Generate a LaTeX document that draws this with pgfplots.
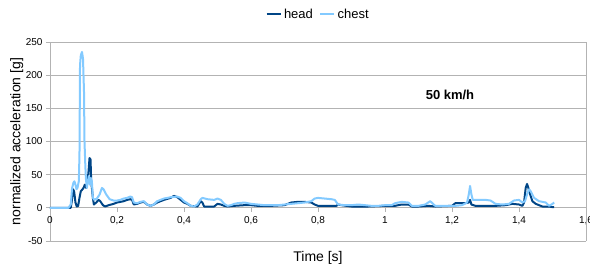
\documentclass[border=0pt]{standalone}
\usepackage{pgfplots}
\pgfplotsset{compat=1.18}
\usepackage{fontspec}
\setmainfont{Liberation Sans}
\definecolor{headc}{HTML}{004586}
\definecolor{chestc}{HTML}{83CAFF}
\definecolor{gridc}{HTML}{B3B3B3}
\begin{document}
\begin{tikzpicture}
\useasboundingbox (-50pt,-30pt) rectangle (540pt,241pt);
\begin{axis}[
  name=ax, at={(0,0)}, anchor=south west,
  scale only axis, width=536pt, height=199pt,
  xmin=0, xmax=1.6, ymin=-50, ymax=250,
  axis x line=middle, axis y line=left,
  axis line style={gridc, -, line width=0.8pt},
  hide obscured x ticks=false, hide obscured y ticks=false,
  xtick={0,0.2,0.4,0.6,0.8,1,1.2,1.4,1.6},
  ytick={-50,0,50,100,150,200,250},
  ymajorgrids, grid style={gridc, line width=0.8pt},
  tick style={gridc, line width=0.8pt}, tick align=outside, major tick length=4pt,
  ticklabel style={font=\fontsize{10}{12}\selectfont},
  /pgf/number format/use comma, /pgf/number format/assume math mode=true,
  xticklabel style={yshift=-1pt},
  xlabel={Time [s]}, ylabel={normalized acceleration [g]},
  label style={font=\fontsize{14}{16}\selectfont},
  xlabel style={at={(axis description cs:0.5,-0.085)}, anchor=center},
  ylabel style={at={(axis description cs:-0.062,0.5)}, anchor=center, rotate=0},
  legend style={at={(axis description cs:0.5,1.14)}, anchor=center, draw=none,
    font=\fontsize{13}{15}\selectfont, legend columns=2,
    /tikz/every even column/.append style={column sep=4pt}},
  legend image code/.code={\draw[#1, line width=2.5pt] (0,0) -- (0.5cm,0);},
  clip=false,
]
\addplot[headc, line width=2pt, line join=round] coordinates {
(0,0) (0.062,0) (0.065,10) (0.069,28) (0.072,25) (0.076,8) (0.080,2) (0.084,3)
(0.088,15) (0.092,25) (0.097,28) (0.100,30) (0.104,35) (0.108,30) (0.112,40)
(0.115,55) (0.118,75) (0.121,73) (0.123,40) (0.125,30) (0.128,15) (0.131,5)
(0.138,8) (0.145,12) (0.150,10) (0.158,4) (0.165,2) (0.175,4) (0.19,6) (0.2,8)
(0.21,9) (0.22,10) (0.23,12) (0.24,13) (0.245,12) (0.25,5) (0.26,6) (0.27,8)
(0.28,9) (0.29,5) (0.3,3) (0.31,5) (0.32,8) (0.34,12) (0.36,15) (0.37,18)
(0.38,16) (0.39,12) (0.40,8) (0.41,6) (0.42,3) (0.44,2) (0.45,10) (0.455,8)
(0.46,2) (0.48,2) (0.49,2) (0.5,6) (0.51,5) (0.52,3) (0.53,2) (0.55,3) (0.58,4)
(0.6,4) (0.62,3) (0.66,3) (0.7,4) (0.72,8) (0.74,9) (0.76,9) (0.78,8) (0.79,5)
(0.8,3) (0.82,3) (0.84,3) (0.855,3) (0.86,5) (0.87,4) (0.9,2) (0.95,2) (1.0,3)
(1.03,3) (1.05,5) (1.07,5) (1.08,2) (1.1,2) (1.13,3) (1.15,2) (1.2,3) (1.21,7)
(1.24,7) (1.25,8) (1.254,12) (1.258,5) (1.27,3) (1.3,3) (1.33,3) (1.36,4)
(1.38,6) (1.40,5) (1.41,3) (1.415,8) (1.42,30) (1.424,36) (1.428,30) (1.432,22)
(1.44,10) (1.45,6) (1.46,4) (1.47,2) (1.49,2) (1.5,1) (1.505,1)
};
\addlegendentry{head}
\addplot[chestc, line width=2pt, line join=round] coordinates {
(0,0) (0.055,0) (0.062,5) (0.066,30) (0.070,38) (0.073,40) (0.076,35) (0.079,28)
(0.082,30) (0.086,40) (0.088,80) (0.0896,215) (0.092,230) (0.0955,235)
(0.0985,225) (0.100,200) (0.1015,175) (0.103,100) (0.105,70) (0.107,45)
(0.110,30) (0.113,40) (0.116,48) (0.119,35) (0.122,45) (0.125,40) (0.128,15)
(0.132,12) (0.14,14) (0.148,20) (0.155,30) (0.16,28) (0.168,20) (0.178,13)
(0.19,11) (0.2,11) (0.21,12) (0.22,14) (0.23,15) (0.24,17) (0.245,16) (0.25,8)
(0.26,7) (0.27,9) (0.28,10) (0.29,5) (0.3,3) (0.31,5) (0.32,10) (0.34,14)
(0.36,16) (0.38,17) (0.39,15) (0.40,10) (0.41,7) (0.42,3) (0.43,2) (0.44,5)
(0.45,13) (0.455,15) (0.47,13) (0.49,12) (0.50,14) (0.51,12) (0.52,6) (0.53,3)
(0.54,4) (0.55,6) (0.56,7) (0.58,8) (0.6,6) (0.62,5) (0.64,4) (0.66,4) (0.68,4)
(0.7,5) (0.72,6) (0.74,7) (0.76,8) (0.78,10) (0.79,14) (0.80,15) (0.82,14)
(0.84,13) (0.85,12) (0.86,5) (0.88,4) (0.9,4) (0.92,5) (0.94,4) (0.96,3)
(0.98,3) (1.0,4) (1.02,4) (1.03,7) (1.05,9) (1.07,8) (1.08,3) (1.1,3) (1.12,5)
(1.135,10) (1.15,3) (1.17,3) (1.19,3) (1.21,3) (1.23,4) (1.245,8) (1.25,20)
(1.254,33) (1.258,20) (1.262,12) (1.28,12) (1.3,12) (1.315,11) (1.33,6)
(1.35,5) (1.37,6) (1.385,11) (1.40,12) (1.41,8) (1.418,10) (1.425,22) (1.43,28)
(1.435,25) (1.445,15) (1.46,10) (1.47,9) (1.48,8) (1.49,3) (1.5,6) (1.505,8)
};
\addlegendentry{chest}
\node[font=\bfseries\fontsize{13}{15}\selectfont] at (axis cs:1.194,170) {50 km/h};
\end{axis}
\draw[gridc, line width=0.8pt] (ax.south east) -- (ax.north east);
\end{tikzpicture}
\end{document}
